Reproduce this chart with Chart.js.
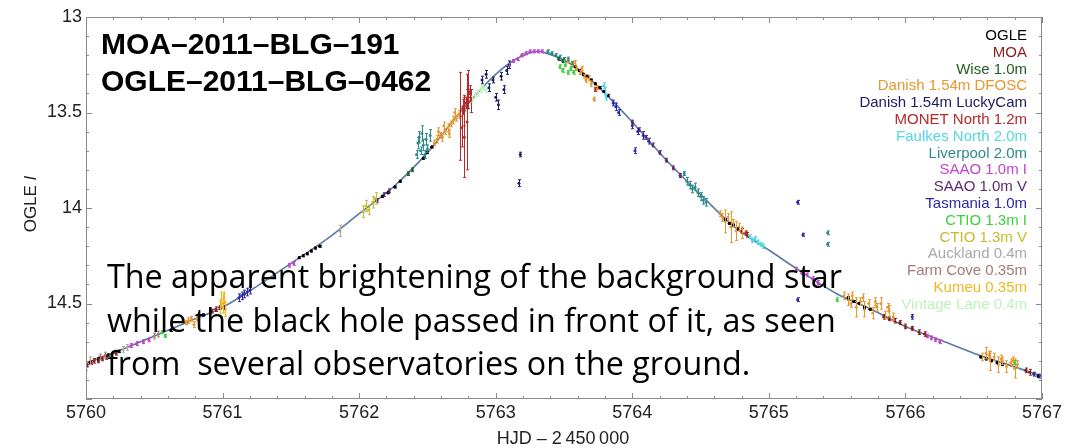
<!DOCTYPE html>
<html>
<head>
<meta charset="utf-8">
<script src="https://cdn.jsdelivr.net/npm/chart.js@4.4.1/dist/chart.umd.min.js"></script>
<style>
  html, body { margin: 0; padding: 0; background: #fff; }
  canvas { display: block; }
</style>
</head>
<body>
<canvas id="lc" width="1066" height="448"></canvas>
<script>
// microlensing light curve, values as [HJD-2450000, OGLE I, error]
const titleLines = ['MOA\u20132011\u2013BLG\u2013191', 'OGLE\u20132011\u2013BLG\u20130462'];
const noteLines = [
    'The apparent brightening of the background star',
    'while the black hole passed in front of it, as seen',
    'from  several observatories on the ground.'
];

const modelDays = [5760, 5760.25, 5760.5, 5760.75, 5761, 5761.25, 5761.5, 5761.75, 5762, 5762.25, 5762.5, 5762.75,
    5763, 5763.15, 5763.3, 5763.45, 5763.6, 5763.8, 5764, 5764.25, 5764.5, 5764.75, 5765, 5765.25, 5765.5,
    5765.75, 5766, 5766.25, 5766.5, 5766.75, 5767];
const modelMags = [14.81, 14.745, 14.67, 14.595, 14.52, 14.41, 14.29, 14.17, 14.03, 13.89, 13.71, 13.49,
    13.30, 13.22, 13.18, 13.21, 13.27, 13.40, 13.55, 13.75, 13.93, 14.10, 14.22, 14.34, 14.45,
    14.53, 14.62, 14.69, 14.76, 14.82, 14.88];

const ogle = [[5760.03,14.81,0.006],[5760.09,14.79,0.006],[5760.16,14.77,0.006],[5760.24,14.75,0.006],
    [5760.62,14.64,0.006],[5760.86,14.56,0.006],
    [5761.56,14.26,0.005],[5761.59,14.25,0.005],[5761.62,14.24,0.005],[5761.65,14.225,0.005],[5761.68,14.21,0.005],[5761.71,14.2,0.005],
    [5762.17,13.94,0.005],[5762.21,13.92,0.005],[5762.26,13.89,0.005],[5762.3,13.86,0.005],
    [5762.47,13.74,0.005],[5762.5,13.71,0.005],[5762.53,13.68,0.005],
    [5763.58,13.26,0.005],[5763.61,13.28,0.005],[5763.64,13.3,0.005],[5763.67,13.31,0.005],[5763.7,13.33,0.005],
    [5763.73,13.35,0.005],[5763.76,13.37,0.005],[5763.79,13.39,0.005],[5763.82,13.41,0.005],
    [5764.68,14.06,0.005],[5764.71,14.08,0.005],[5764.74,14.09,0.005],[5764.77,14.11,0.005],
    [5765.58,14.47,0.005],[5765.62,14.49,0.005],[5765.66,14.5,0.005],[5765.7,14.52,0.005],[5765.74,14.53,0.005],
    [5766.55,14.78,0.005],[5766.59,14.79,0.005],[5766.63,14.8,0.005],[5766.67,14.81,0.005],[5766.71,14.82,0.005],
    [5766.97,14.88,0.006]];
const moa = [[5760.01,14.82,0.012],[5760.04,14.81,0.01],[5760.06,14.8,0.012],[5760.09,14.8,0.01],[5760.12,14.79,0.01],
    [5760.15,14.78,0.012],[5760.19,14.77,0.01],[5760.22,14.76,0.01],
    [5760.92,14.54,0.01],[5760.95,14.53,0.012],[5760.98,14.52,0.01],[5761.01,14.52,0.01],
    [5764.8,14.12,0.012],[5764.84,14.14,0.012],
    [5765.84,14.57,0.012],[5765.88,14.58,0.01],[5765.92,14.59,0.012],[5765.96,14.6,0.01],[5766,14.62,0.012],
    [5766.05,14.63,0.01],[5766.1,14.65,0.012],[5766.14,14.66,0.012],
    [5766.88,14.85,0.012],[5766.91,14.86,0.015]];
const wise = [[5762.36,13.82,0.01],[5762.39,13.8,0.01],[5763.46,13.22,0.008],[5763.49,13.23,0.008]];
const danishDfosc = [[5760.73,14.6,0.012],[5760.75,14.59,0.015],[5760.77,14.58,0.012],[5760.79,14.61,0.015],[5760.81,14.58,0.012],
    [5762.55,13.66,0.015],[5762.57,13.64,0.02],[5762.59,13.62,0.015],[5762.61,13.63,0.02],[5762.63,13.6,0.015],
    [5762.65,13.58,0.02],[5762.67,13.56,0.015],[5762.69,13.54,0.02],[5762.71,13.53,0.015],[5762.73,13.51,0.02],
    [5762.58,13.6,0.02],[5762.62,13.57,0.02],[5762.66,13.61,0.02],[5762.7,13.5,0.02],
    [5763.53,13.23,0.01],[5763.56,13.25,0.012],[5763.59,13.27,0.01],[5763.62,13.29,0.012],[5763.65,13.31,0.01],
    [5763.68,13.32,0.012],[5763.7,13.35,0.015],[5763.72,13.43,0.01],[5763.74,13.37,0.012],
    [5763.58,13.24,0.012],[5763.63,13.27,0.012],[5763.66,13.33,0.012],
    [5764.64,14.03,0.015],[5764.66,14.05,0.02],[5764.68,14.07,0.06],[5764.7,14.05,0.02],[5764.72,14.1,0.08],
    [5764.74,14.08,0.02],[5764.76,14.12,0.05],[5764.78,14.1,0.02],[5764.8,14.13,0.03],
    [5765.55,14.46,0.02],[5765.58,14.48,0.03],[5765.61,14.46,0.02],[5765.64,14.52,0.05],[5765.67,14.49,0.02],
    [5765.7,14.53,0.04],[5765.73,14.5,0.02],[5765.76,14.55,0.03],[5765.79,14.52,0.02],[5765.82,14.5,0.03],
    [5765.85,14.56,0.02],[5765.88,14.54,0.03],[5765.91,14.57,0.02],
    [5765.6,14.5,0.02],[5765.69,14.47,0.02],[5765.78,14.49,0.02],[5765.87,14.52,0.02],
    [5766.56,14.78,0.02],[5766.59,14.76,0.03],[5766.62,14.8,0.05],[5766.65,14.78,0.02],[5766.68,14.82,0.04],
    [5766.71,14.8,0.02],[5766.74,14.83,0.03],[5766.77,14.81,0.02],[5766.8,14.84,0.05],[5766.82,14.82,0.02],
    [5766.61,14.77,0.02],[5766.7,14.79,0.02],[5766.79,14.8,0.02]];
const danishLucky = [[5762.9,13.33,0.02],[5762.93,13.3,0.02],[5762.95,13.37,0.02],[5762.98,13.33,0.015],[5763,13.42,0.02],
    [5763.02,13.46,0.025],[5763.04,13.31,0.02],[5763.06,13.38,0.02],[5763.08,13.28,0.02],[5763.1,13.25,0.02],
    [5763.18,13.72,0.012],[5763.17,13.87,0.018]];
const monet = [[5762.74,13.52,0.23],[5762.79,13.55,0.25],[5762.77,13.63,0.21],[5762.76,13.47,0.04],[5762.78,13.45,0.03],
    [5762.79,13.43,0.05],[5762.8,13.42,0.03],[5762.81,13.4,0.04],[5762.82,13.44,0.06],[5762.77,13.49,0.08],
    [5762.75,13.58,0.1],[5762.8,13.38,0.1],[5763.73,13.38,0.01],[5764.83,14.13,0.01]];
const faulkes = [[5763.79,13.36,0.015],[5763.8,13.39,0.02],[5763.81,13.42,0.015],
    [5764.86,14.15,0.01],[5764.88,14.17,0.012],[5764.9,14.16,0.01],[5764.92,14.18,0.012],[5764.94,14.19,0.01],[5764.96,14.2,0.012]];
const liverpool = [[5762.42,13.72,0.02],[5762.43,13.66,0.03],[5762.44,13.63,0.03],[5762.45,13.7,0.02],[5762.46,13.61,0.04],
    [5762.47,13.67,0.03],[5762.48,13.72,0.02],[5762.49,13.64,0.03],[5762.5,13.69,0.02],[5762.52,13.62,0.03],
    [5763.38,13.18,0.008],[5763.41,13.19,0.008],[5763.44,13.2,0.008],[5763.47,13.21,0.01],[5763.5,13.22,0.008],
    [5763.53,13.22,0.01],[5763.56,13.24,0.008],
    [5764.38,13.82,0.01],[5764.4,13.86,0.02],[5764.42,13.88,0.02],[5764.44,13.9,0.02],[5764.46,13.89,0.02],
    [5764.48,13.92,0.02],[5764.5,13.94,0.02],[5764.52,13.96,0.02],[5764.54,13.97,0.02],
    [5765.43,14.13,0.01],[5765.43,14.19,0.01]];
const saaoI = [[5760.33,14.72,0.01],[5760.37,14.71,0.01],[5760.42,14.7,0.01],[5760.46,14.69,0.01],
    [5761.49,14.3,0.01],[5761.52,14.29,0.01],
    [5763.1,13.25,0.008],[5763.13,13.23,0.008],[5763.16,13.22,0.008],[5763.19,13.2,0.008],[5763.22,13.19,0.008],
    [5763.25,13.18,0.008],[5763.28,13.18,0.008],[5763.31,13.18,0.008],[5763.34,13.18,0.008],
    [5765.2,14.32,0.01],[5765.24,14.34,0.01],[5765.28,14.35,0.01],[5765.32,14.37,0.01],[5765.36,14.39,0.01],
    [5766.16,14.67,0.01],[5766.19,14.68,0.01],[5766.22,14.69,0.01],[5766.25,14.7,0.01]];
const saaoV = [[5762.13,13.96,0.01],[5762.18,13.93,0.01],[5762.22,13.91,0.01],
    [5764,13.55,0.01],[5764.05,13.59,0.01],[5764.1,13.63,0.01],[5764.15,13.67,0.01],[5764.2,13.71,0.01],
    [5764.25,13.75,0.01],[5764.3,13.79,0.01],[5764.35,13.83,0.01]];
const tasmania = [[5761.12,14.47,0.02],[5761.14,14.46,0.02],[5761.16,14.45,0.02],[5761.18,14.44,0.02],[5761.2,14.43,0.02],
    [5763.86,13.45,0.015],[5763.88,13.47,0.02],[5763.9,13.5,0.015],
    [5764,13.57,0.015],[5764.04,13.6,0.015],[5764.08,13.62,0.02],[5764.12,13.65,0.015],[5764.02,13.7,0.015],
    [5765.21,13.97,0.01],[5765.25,14.14,0.008],[5765.21,14.48,0.01],[5766.05,14.57,0.012],
    [5766.94,14.87,0.01],[5766.98,14.88,0.01]];
const ctioI = [[5760.56,14.65,0.008],[5760.58,14.67,0.008],
    [5763.47,13.26,0.01],[5763.49,13.28,0.01],[5763.51,13.25,0.01],[5763.53,13.29,0.01],[5763.55,13.27,0.01],[5763.57,13.29,0.01],
    [5765.5,14.48,0.01],[5766.8,14.81,0.01]];
const ctioV = [[5762.03,14.02,0.03],[5762.05,13.99,0.03],[5762.07,14.01,0.025],[5762.1,13.97,0.03],[5762.12,13.95,0.03]];
const auckland = [[5760,14.83,0.02],[5760.03,14.8,0.02],[5760.27,14.74,0.015],[5760.3,14.73,0.015],[5761.86,14.12,0.03]];
const farmCove = [[5760.1,14.78,0.015],[5760.14,14.77,0.015],[5760.5,14.67,0.015],[5760.53,14.66,0.015]];
const kumeu = [[5760.98,14.52,0.03],[5760.99,14.48,0.04],[5761,14.5,0.05],[5761.01,14.47,0.03],[5761.02,14.53,0.04]];
const vintageLane = [[5762.83,13.43,0.015],[5762.85,13.41,0.015],[5762.87,13.4,0.015],[5762.89,13.38,0.015],
    [5762.91,13.37,0.015],[5762.93,13.38,0.015]];

const seriesNames = ['OGLE', 'MOA', 'Wise 1.0m', 'Danish 1.54m DFOSC', 'Danish 1.54m LuckyCam', 'MONET North 1.2m',
    'Faulkes North 2.0m', 'Liverpool 2.0m', 'SAAO 1.0m I', 'SAAO 1.0m V', 'Tasmania 1.0m', 'CTIO 1.3m I',
    'CTIO 1.3m V', 'Auckland 0.4m', 'Farm Cove 0.35m', 'Kumeu 0.35m', 'Vintage Lane 0.4m'];
const seriesData = [ogle, moa, wise, danishDfosc, danishLucky, monet, faulkes, liverpool, saaoI, saaoV, tasmania,
    ctioI, ctioV, auckland, farmCove, kumeu, vintageLane];
const seriesColors = ['#000000', '#8b1c1c', '#1f5f1f', '#e8962e', '#1c1c62', '#b42a2a', '#4fd8e2', '#2e8b8b',
    '#c444cc', '#5c2a72', '#2a2aa6', '#3cd23c', '#c4bc2a', '#a9a9a9', '#a47a7a', '#f0b81e', '#bff0bf'];

const datasets = seriesData.map((pts, i) => ({
    label: seriesNames[i],
    data: pts.map(p => ({x: p[0], y: p[1], e: p[2]})),
    backgroundColor: seriesColors[i],
    borderColor: seriesColors[i],
    pointRadius: 1.5,
    pointBorderWidth: 0,
    showLine: false,
    errors: true,
    order: 1
}));
datasets.push({
    label: 'model',
    data: modelDays.map((d, i) => ({x: d, y: modelMags[i]})),
    borderColor: '#5b7ba3',
    borderWidth: 1.6,
    pointRadius: 0,
    showLine: true,
    cubicInterpolationMode: 'monotone',
    order: 100
});

// vertical error bars with tiny caps
const errorBars = {
    id: 'errorBars',
    afterDatasetsDraw(chart) {
        const {ctx, chartArea: a, scales: {x, y}} = chart;
        ctx.save();
        ctx.beginPath();
        ctx.rect(a.left, a.top, a.width, a.height);
        ctx.clip();
        ctx.lineWidth = 1;
        chart.data.datasets.forEach(ds => {
            if (!ds.errors) return;
            ctx.strokeStyle = ds.borderColor;
            ds.data.forEach(p => {
                const px = Math.round(x.getPixelForValue(p.x)) + 0.5;
                const y1 = y.getPixelForValue(p.y - p.e);
                const y2 = y.getPixelForValue(p.y + p.e);
                ctx.beginPath();
                ctx.moveTo(px, y1); ctx.lineTo(px, y2);
                ctx.moveTo(px - 1.5, y1); ctx.lineTo(px + 1.5, y1);
                ctx.moveTo(px - 1.5, y2); ctx.lineTo(px + 1.5, y2);
                ctx.stroke();
            });
        });
        ctx.restore();
    }
};

// Mathematica style frame with inward ticks on all four sides
const frame = {
    id: 'frame',
    afterDraw(chart) {
        const {ctx, chartArea: a, scales: {x, y}} = chart;
        ctx.save();
        ctx.strokeStyle = '#8a8a8a';
        ctx.lineWidth = 1;
        ctx.strokeRect(a.left + 0.5, a.top + 0.5, a.width - 1, a.height - 1);
        ctx.beginPath();
        for (let i = 0; i <= 35; i++) {
            const px = Math.round(x.getPixelForValue(5760 + i * 0.2)) + 0.5;
            const len = i % 5 === 0 ? 6 : 3;
            ctx.moveTo(px, a.bottom); ctx.lineTo(px, a.bottom - len);
            ctx.moveTo(px, a.top); ctx.lineTo(px, a.top + len);
        }
        for (let i = 0; i <= 20; i++) {
            const py = Math.round(y.getPixelForValue(13 + i * 0.1)) + 0.5;
            const len = i % 5 === 0 ? 6 : 3;
            ctx.moveTo(a.left, py); ctx.lineTo(a.left + len, py);
            ctx.moveTo(a.right, py); ctx.lineTo(a.right - len, py);
        }
        ctx.stroke();
        ctx.restore();
    }
};

// titles, legend and caption text
const texts = {
    id: 'texts',
    afterDraw(chart) {
        const ctx = chart.ctx;
        ctx.save();
        ctx.fillStyle = '#000';
        ctx.textAlign = 'left';
        ctx.textBaseline = 'alphabetic';
        ctx.font = 'bold 30px "Liberation Sans", Arial, sans-serif';
        ctx.fillText(titleLines[0], 101, 54);
        ctx.fillText(titleLines[1], 101, 91);

        ctx.font = '15px "Liberation Sans", Arial, sans-serif';
        ctx.textAlign = 'right';
        seriesNames.forEach((n, i) => {
            ctx.fillStyle = seriesColors[i];
            ctx.fillText(n, 1027, 40 + i * 16.8);
        });

        // y axis title: OGLE I (italic I)
        ctx.save();
        ctx.translate(36, 204);
        ctx.rotate(-Math.PI / 2);
        ctx.fillStyle = '#222';
        ctx.textAlign = 'left';
        ctx.font = '17px "Liberation Sans", Arial, sans-serif';
        const w1 = ctx.measureText('OGLE ').width;
        ctx.font = 'italic 17px "Liberation Sans", Arial, sans-serif';
        const w2 = ctx.measureText('I').width;
        const x0 = -(w1 + w2) / 2;
        ctx.font = '17px "Liberation Sans", Arial, sans-serif';
        ctx.fillText('OGLE ', x0, 0);
        ctx.font = 'italic 17px "Liberation Sans", Arial, sans-serif';
        ctx.fillText('I', x0 + w1, 0);
        ctx.restore();

        // x axis title
        ctx.fillStyle = '#222';
        ctx.textAlign = 'center';
        ctx.font = '18px "Liberation Sans", Arial, sans-serif';
        ctx.fillText('HJD \u2013 2\u2009450\u2009000', 563, 444);

        // caption, squeezed to the width of the original
        ctx.fillStyle = '#000';
        ctx.textAlign = 'left';
        ctx.font = '32px "Open Sans", "Noto Sans", sans-serif';
        const sx = 735 / ctx.measureText(noteLines[0]).width;
        [288, 332, 375].forEach((by, i) => {
            ctx.save();
            ctx.translate(107, by);
            ctx.scale(sx, 1);
            ctx.fillText(noteLines[i], 0, 0);
            ctx.restore();
        });
        ctx.restore();
    }
};

const config = {
    type: 'scatter',
    data: {datasets},
    options: {
        responsive: false,
        animation: false,
        devicePixelRatio: 1,
        layout: {padding: {top: 17, right: 24, left: 0, bottom: 0}},
        plugins: {legend: {display: false}, tooltip: {enabled: false}},
        scales: {
            x: {
                type: 'linear', min: 5760, max: 5767,
                grid: {display: false, drawTicks: false},
                border: {display: false},
                ticks: {
                    stepSize: 1, autoSkip: false, maxRotation: 0, padding: 3,
                    color: '#222', font: {size: 18, family: '"Liberation Sans", Arial, sans-serif'},
                    callback: v => String(v)
                },
                afterFit: s => { s.height = 49; }
            },
            y: {
                type: 'linear', min: 13, max: 15, reverse: true,
                grid: {display: false, drawTicks: false},
                border: {display: false},
                ticks: {
                    stepSize: 0.5, padding: 4,
                    color: '#222', font: {size: 18, family: '"Liberation Sans", Arial, sans-serif'},
                    callback: v => (v === 15 ? '' : String(v))
                },
                afterFit: s => { s.width = 86; }
            }
        }
    },
    plugins: [errorBars, frame, texts]
};

const chart = new Chart(document.getElementById('lc'), config);
</script>
</body>
</html>
